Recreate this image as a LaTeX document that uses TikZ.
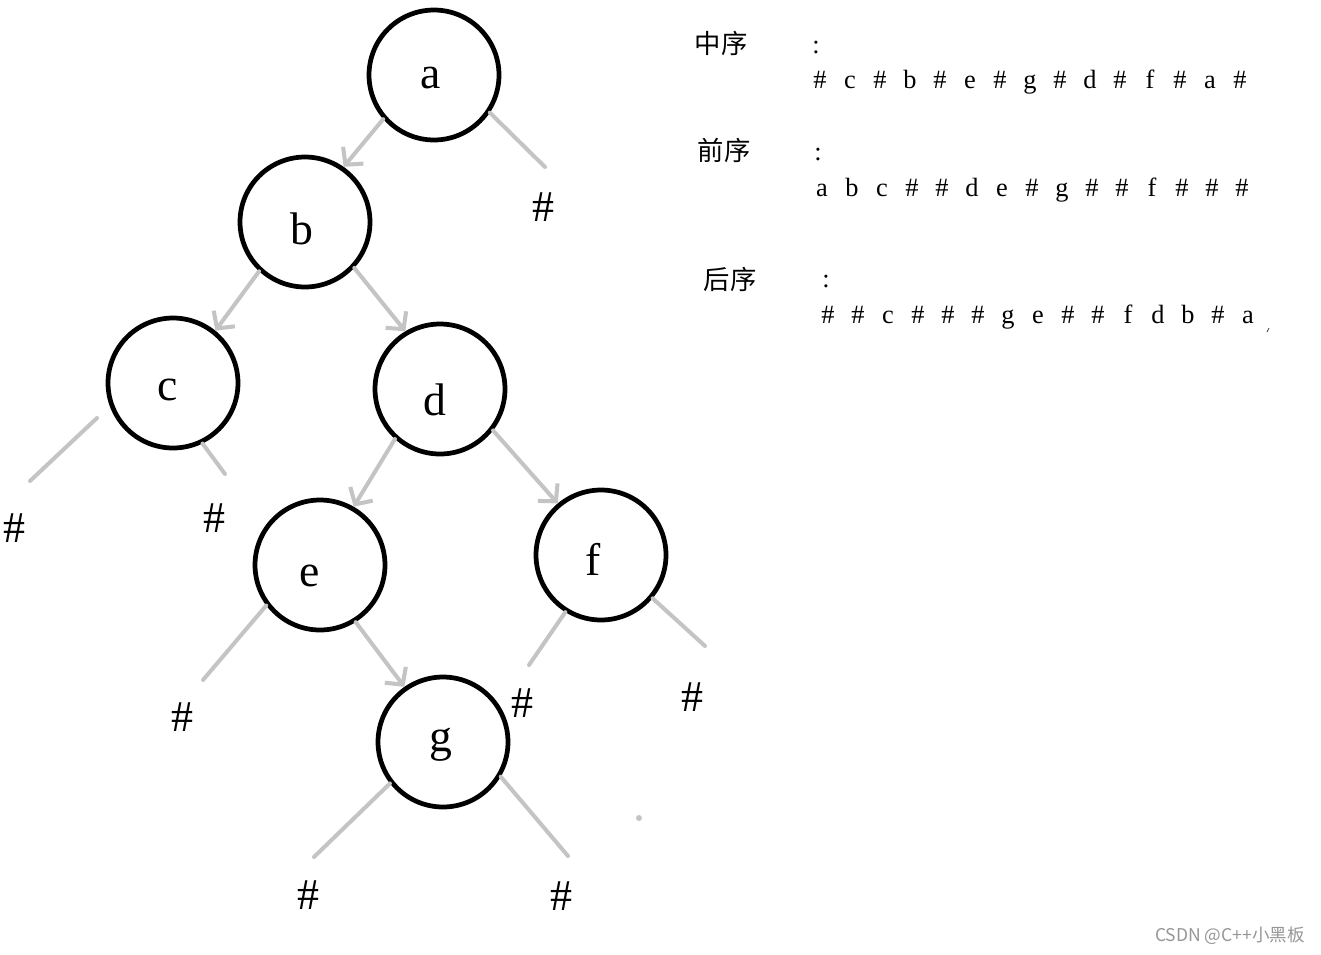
\documentclass[tikz,border=0pt]{standalone}
\usepackage{fontspec}
\setmainfont{Liberation Serif}
\newfontfamily\cjk{Noto Sans CJK SC}
\usetikzlibrary{arrows.meta}
\definecolor{edgegray}{RGB}{196,196,196}
\definecolor{wmgray}{RGB}{150,150,150}
\begin{document}
\begin{tikzpicture}[x=0.02cm,y=-0.02cm,
  treenode/.style={circle,draw=black,line width=2.7pt,minimum size=2.6cm,inner sep=0pt},
  nodelabel/.style={anchor=base,inner sep=0pt,font=\fontsize{26}{30}\selectfont},
  hashlabel/.style={inner sep=0pt,font=\fontsize{25}{30}\selectfont},
  edge/.style={draw=edgegray,line width=2.3pt,line cap=round},
  arrowedge/.style={edge,-{Straight Barb[length=7pt,width=15pt]}},
  seqchar/.style={anchor=base,inner sep=0pt,font=\fontsize{15}{18}\selectfont},
  cjklabel/.style={inner sep=0pt,font=\cjk\fontsize{15}{18}\selectfont},
  watermark/.style={inner sep=0pt,text=wmgray,font=\cjk\fontsize{10}{12}\selectfont}]
\useasboundingbox (0,0) rectangle (1321,954);
% tree nodes
\node[treenode] (a) at (434,75) {};
\node[treenode] (b) at (305,222) {};
\node[treenode] (c) at (173,383) {};
\node[treenode] (d) at (440,389) {};
\node[treenode] (e) at (320,565) {};
\node[treenode] (f) at (601,555) {};
\node[treenode] (g) at (443,742) {};
% labels
\node[nodelabel] (la) at (431,88) {a};
\node[nodelabel] (lb) at (302,244) {b};
\node[nodelabel] (lc) at (168,400) {c};
\node[nodelabel] (ld) at (435,415) {d};
\node[nodelabel] (le) at (310,586) {e};
\node[nodelabel] (lf) at (593,575) {f};
\node[nodelabel] (lg) at (441,751) {g};
% hash leaves
\node[hashlabel] (ha) at (543,207) {\#};
\node[hashlabel] (hc1) at (14,528) {\#};
\node[hashlabel] (hc2) at (214,518) {\#};
\node[hashlabel] (he) at (182,717) {\#};
\node[hashlabel] (hf1) at (522,703) {\#};
\node[hashlabel] (hf2) at (692,697) {\#};
\node[hashlabel] (hg1) at (308,895) {\#};
\node[hashlabel] (hg2) at (561,896) {\#};
% leaf line ends
\coordinate (ea) at (545,167);
\coordinate (ec1s) at (97,418);
\coordinate (ec1) at (30,481);
\coordinate (ec2) at (225,474);
\coordinate (ee) at (203,680);
\coordinate (ef1) at (529,665);
\coordinate (ef2) at (705,646);
\coordinate (eg1) at (314,857);
\coordinate (eg2) at (568,856);
% arrows between nodes
\draw[arrowedge] (a.221) -- (b.55);
\draw[arrowedge] (b.227) -- (c.51);
\draw[arrowedge] (b.317) -- (d.121);
\draw[arrowedge] (d.228) -- (e.60);
\draw[arrowedge] (d.322) -- (f.130);
\draw[arrowedge] (e.302) -- (g.125);
% leaf lines
\draw[edge] (a.326) -- (ea);
\draw[edge] (ec1s) -- (ec1);
\draw[edge] (c.296) -- (ec2);
\draw[edge] (e.217) -- (ee);
\draw[edge] (f.238) -- (ef1);
\draw[edge] (f.320) -- (ef2);
\draw[edge] (g.218) -- (eg1);
\draw[edge] (g.329) -- (eg2);
% stray marks
\fill[edgegray] (639,818) circle (3);
\draw[black!70,line width=0.5pt] (1267,332) -- (1269,328);
% traversal text
\node[cjklabel] (t1) at (721,43) {中序};
\node[seqchar] (c1) at (816,53) {:};
\foreach \t [count=\i from 0] in {\#,c,\#,b,\#,e,\#,g,\#,d,\#,f,\#,a,\#}
  \node[seqchar] (s1-\i) at (820+30*\i,88) {\t};
\node[cjklabel] (t2) at (724,150) {前序};
\node[seqchar] (c2) at (818,160) {:};
\foreach \t [count=\i from 0] in {a,b,c,\#,\#,d,e,\#,g,\#,\#,f,\#,\#,\#}
  \node[seqchar] (s2-\i) at (822+30*\i,196) {\t};
\node[cjklabel] (t3) at (730,279) {后序};
\node[seqchar] (c3) at (826,287) {:};
\foreach \t [count=\i from 0] in {\#,\#,c,\#,\#,\#,g,e,\#,\#,f,d,b,\#,a}
  \node[seqchar] (s3-\i) at (828+30*\i,323) {\t};
% watermark
\node[watermark] (wm) at (1230,936) {CSDN @C++小黑板};
\end{tikzpicture}
\end{document}
